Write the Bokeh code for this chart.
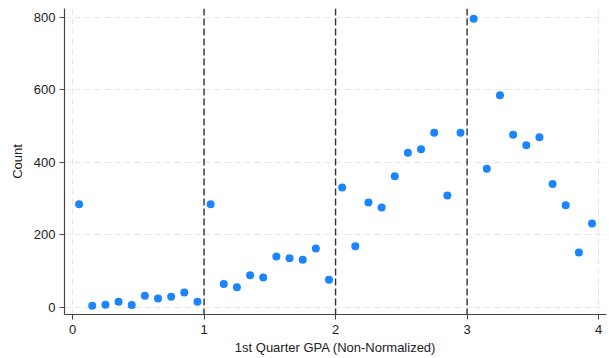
from bokeh.plotting import figure
from bokeh.models import Span, FixedTicker
from bokeh.embed import file_html
from bokeh.resources import INLINE

# GPA bin midpoints (0.1-wide bins) and counts per bin
gpa_bins = [0.05, 0.15, 0.25, 0.35, 0.45, 0.55, 0.65, 0.75, 0.85, 0.95,
            1.05, 1.15, 1.25, 1.35, 1.45, 1.55, 1.65, 1.75, 1.85, 1.95,
            2.05, 2.15, 2.25, 2.35, 2.45, 2.55, 2.65, 2.75, 2.85, 2.95,
            3.05, 3.15, 3.25, 3.35, 3.45, 3.55, 3.65, 3.75, 3.85, 3.95]
counts = [284, 4, 7, 15, 6, 32, 24, 29, 41, 15,
          284, 64, 55, 88, 82, 140, 135, 131, 162, 76,
          330, 168, 289, 275, 361, 426, 436, 481, 308, 481,
          796, 382, 585, 476, 447, 469, 340, 281, 151, 231]
cutoffs = [1, 2, 3]
x_ticks = [0, 1, 2, 3, 4]
y_ticks = [0, 200, 400, 600, 800]

FONT = "Liberation Sans"

p = figure(width=609, height=358, output_backend="svg", toolbar_location=None,
           x_range=(-0.061, 4.06), y_range=(-20, 824),
           min_border_left=64, min_border_right=3, min_border_top=8, min_border_bottom=44)
p.outline_line_color = None
p.background_fill_color = "white"

p.scatter(gpa_bins, counts, size=8, color="#1a85ff", line_color=None)

for c in cutoffs:
    p.add_layout(Span(location=c, dimension="height", line_color="#333333",
                      line_width=1.4, line_dash="7 3"))

p.xaxis.ticker = FixedTicker(ticks=x_ticks)
p.yaxis.ticker = FixedTicker(ticks=y_ticks)
p.xaxis.axis_label = "1st Quarter GPA (Non-Normalized)"
p.yaxis.axis_label = "Count"

for ax in (p.xaxis[0], p.yaxis[0]):
    ax.axis_line_color = "#444444"
    ax.axis_line_width = 1.2
    ax.major_tick_line_color = "#444444"
    ax.major_tick_in = 0
    ax.major_tick_out = 5
    ax.minor_tick_line_color = None
    ax.major_label_text_font = FONT
    ax.major_label_text_font_size = "13px"
    ax.major_label_text_color = "#222222"
    ax.axis_label_text_font = FONT
    ax.axis_label_text_font_size = "13px"
    ax.axis_label_text_font_style = "normal"
    ax.axis_label_text_color = "#222222"

p.yaxis.major_label_orientation = "horizontal"
p.yaxis.major_label_standoff = 4
p.xaxis.axis_label_standoff = 3
p.yaxis.axis_label_standoff = 6

p.xgrid.ticker = FixedTicker(ticks=x_ticks)
p.ygrid.ticker = FixedTicker(ticks=y_ticks)
for g in (p.xgrid[0], p.ygrid[0]):
    g.grid_line_color = "#e6e6e6"
    g.grid_line_dash = "6 4"
    g.grid_line_width = 1

open("out.html", "w").write(file_html(p, INLINE))
